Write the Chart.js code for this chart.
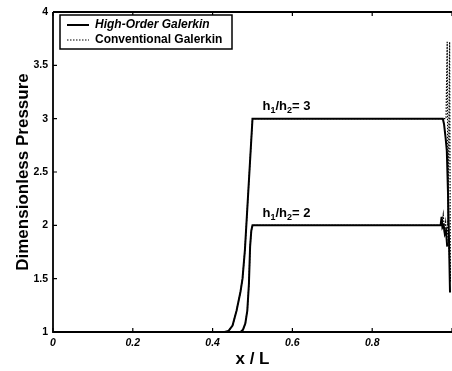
<!DOCTYPE html>
<html>
<head>
<meta charset="utf-8">
<script src="https://cdn.jsdelivr.net/npm/chart.js@4.4.1/dist/chart.umd.min.js"></script>
<style>
  html, body { margin: 0; padding: 0; background: #fff; }
  #wrap { width: 452px; height: 371px; }
</style>
</head>
<body>
<div id="wrap"><canvas id="pressChart" width="452" height="371"></canvas></div>
<script>
// series labels
var seriesNames = ['High-Order Galerkin', 'Conventional Galerkin'];

// high-order galerkin, h1/h2 = 3
var hoX3 = [0, 0.43, 0.44, 0.45, 0.46, 0.47, 0.475, 0.481, 0.5, 0.977, 0.98, 0.984, 0.987, 0.99, 0.9925, 0.995];
var hoY3 = [1, 1, 1.01, 1.06, 1.2, 1.38, 1.5, 1.77, 3, 3, 2.95, 2.82, 2.7, 2.3, 1.86, 1.37];
// high-order galerkin, h1/h2 = 2
var hoX2 = [0, 0.47, 0.476, 0.482, 0.487, 0.491, 0.494, 0.497, 0.5, 0.97, 0.972, 0.974, 0.976, 0.979, 0.982, 0.985, 0.988];
var hoY2 = [1, 1, 1.02, 1.08, 1.2, 1.45, 1.8, 1.95, 2, 2, 2.02, 2.08, 1.98, 2.0, 1.92, 1.95, 1.8];
// conventional galerkin, h1/h2 = 3
var cgX3 = [0, 0.43, 0.44, 0.45, 0.46, 0.47, 0.475, 0.481, 0.5, 0.975, 0.985, 0.988, 0.99, 0.994, 0.996];
var cgY3 = [1, 1, 1.01, 1.06, 1.2, 1.38, 1.5, 1.77, 3, 3, 3.0, 3.72, 2.0, 3.72, 1.46];
// conventional galerkin, h1/h2 = 2
var cgX2 = [0, 0.47, 0.476, 0.482, 0.487, 0.491, 0.494, 0.497, 0.5, 0.97, 0.975, 0.978, 0.981, 0.984, 0.987, 0.99, 0.993, 0.996];
var cgY2 = [1, 1, 1.02, 1.08, 1.2, 1.45, 1.8, 1.95, 2, 2, 2.02, 2.1, 1.95, 2.03, 1.85, 2.05, 1.75, 1.5];

// ratio labels
var ratioText = ['3', '2'];
var ratioX = [0.525, 0.525];
var ratioY = [3.12, 2.12];

function pts(xs, ys) {
  var out = [];
  for (var i = 0; i < xs.length; i++) out.push({x: xs[i], y: ys[i]});
  return out;
}

var FONT = '"Liberation Sans", Arial, sans-serif';

// frame with inward ticks, legend box and ratio labels
var framePlugin = {
  id: 'frame',
  afterDraw: function(chart) {
    var c = chart.ctx;
    var a = chart.chartArea;
    var xs = chart.scales.x, ys = chart.scales.y;
    c.save();
    c.strokeStyle = '#000';
    c.lineWidth = 1.8;
    c.beginPath();
    c.moveTo(a.left, a.top); c.lineTo(a.right, a.top);
    c.moveTo(a.left, a.top); c.lineTo(a.left, a.bottom); c.lineTo(a.right, a.bottom);
    c.stroke();
    c.lineWidth = 1.2;
    c.beginPath();
    xs.ticks.forEach(function(t) {
      var px = xs.getPixelForValue(t.value);
      c.moveTo(px, a.bottom); c.lineTo(px, a.bottom - 4);
      c.moveTo(px, a.top); c.lineTo(px, a.top + 4);
    });
    ys.ticks.forEach(function(t) {
      var py = ys.getPixelForValue(t.value);
      c.moveTo(a.left, py); c.lineTo(a.left + 4, py);
    });
    c.stroke();

    // legend
    var lx = a.left + 7, ly = a.top + 3, lw = 172, lh = 34;
    c.fillStyle = '#fff';
    c.fillRect(lx, ly, lw, lh);
    c.lineWidth = 1.5;
    c.strokeRect(lx, ly, lw, lh);
    var rows = [chart.data.datasets[0], chart.data.datasets[2]];
    rows.forEach(function(ds, i) {
      var yy = ly + 10 + i * 15;
      c.beginPath();
      c.lineWidth = ds.borderWidth;
      c.setLineDash(ds.borderDash || []);
      c.moveTo(lx + 7, yy); c.lineTo(lx + 29, yy);
      c.stroke();
      c.setLineDash([]);
      c.fillStyle = '#000';
      c.font = (i === 0 ? 'italic ' : '') + 'bold 12px ' + FONT;
      c.textBaseline = 'middle';
      c.textAlign = 'left';
      c.fillText(seriesNames[i], lx + 35, yy);
    });

    // h1/h2 labels
    for (var k = 0; k < ratioText.length; k++) {
      var x0 = xs.getPixelForValue(ratioX[k]);
      var y0 = ys.getPixelForValue(ratioY[k]);
      var parts = [['h', 0], ['1', 1], ['/h', 0], ['2', 1], ['= ' + ratioText[k], 0]];
      var px = x0;
      parts.forEach(function(p) {
        c.font = p[1] ? 'bold 9px ' + FONT : 'bold 13px ' + FONT;
        c.textBaseline = 'alphabetic';
        c.fillText(p[0], px, y0 + (p[1] ? 7 : 4));
        px += c.measureText(p[0]).width;
      });
    }
    c.restore();
  }
};

var ctx = document.getElementById('pressChart').getContext('2d');
var pressChart = new Chart(ctx, {
  type: 'line',
  data: {
    datasets: [{
      label: seriesNames[0],
      data: pts(hoX3, hoY3),
      borderColor: '#000',
      borderWidth: 2,
      pointRadius: 0,
      tension: 0,
      fill: false
    }, {
      label: seriesNames[0],
      data: pts(hoX2, hoY2),
      borderColor: '#000',
      borderWidth: 2,
      pointRadius: 0,
      tension: 0,
      fill: false
    }, {
      label: seriesNames[1],
      data: pts(cgX3, cgY3),
      borderColor: '#000',
      borderWidth: 1.2,
      borderDash: [1.5, 1.5],
      pointRadius: 0,
      tension: 0,
      fill: false
    }, {
      label: seriesNames[1],
      data: pts(cgX2, cgY2),
      borderColor: '#000',
      borderWidth: 1.2,
      borderDash: [1.5, 1.5],
      pointRadius: 0,
      tension: 0,
      fill: false
    }]
  },
  options: {
    responsive: false,
    animation: false,
    layout: { autoPadding: false, padding: { top: 12, right: 0, left: 0, bottom: 0 } },
    plugins: {
      legend: { display: false },
      tooltip: { enabled: false }
    },
    scales: {
      x: {
        type: 'linear',
        min: 0, max: 1,
        grid: { display: false, drawTicks: false },
        border: { display: false },
        ticks: {
          stepSize: 0.2,
          padding: 5,
          color: '#000',
          font: { family: FONT, size: 10.5, weight: 'bold', style: 'italic' },
          callback: function(v) { return v >= 0.999 ? '' : String(Math.round(v * 10) / 10); }
        },
        title: {
          display: true,
          text: 'x / L',
          color: '#000',
          font: { family: FONT, size: 17, weight: 'bold' },
          padding: { top: 0, bottom: 1 }
        },
        afterFit: function(s) { s.height = 39; s.paddingRight = 0; }
      },
      y: {
        min: 1, max: 4,
        grid: { display: false, drawTicks: false },
        border: { display: false },
        ticks: {
          stepSize: 0.5,
          padding: 5,
          color: '#000',
          font: { family: FONT, size: 10.5, weight: 'bold' },
          callback: function(v) { return String(v); }
        },
        title: {
          display: true,
          text: 'Dimensionless Pressure',
          color: '#000',
          font: { family: FONT, size: 17, weight: 'bold' },
          padding: { top: 13, bottom: 0 }
        },
        afterFit: function(s) { s.width = 53; }
      }
    }
  },
  plugins: [framePlugin]
});
</script>
</body>
</html>
